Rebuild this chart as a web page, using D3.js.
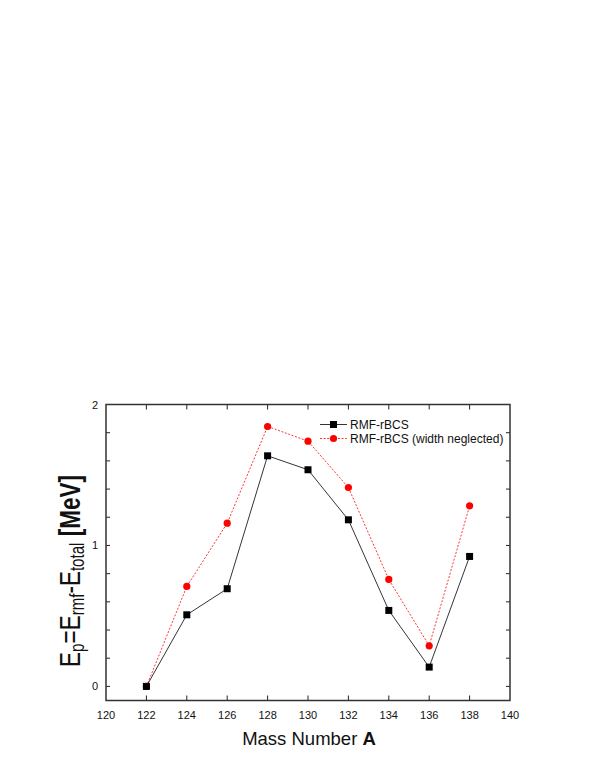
<!DOCTYPE html>
<html><head><meta charset="utf-8">
<script src="https://cdn.jsdelivr.net/npm/d3@7"></script>
<style>body{margin:0;background:#fff;} svg{display:block;} text{font-family:"Liberation Sans",Arial,sans-serif;}</style>
</head><body>
<svg id="c" width="595" height="770"></svg>
<script>
const massNumbers = [122,124,126,128,130,132,134,136,138];
const rmfRBCS = [0.0,0.508,0.693,1.636,1.537,1.182,0.539,0.137,0.922];
const rmfRBCSWidthNeglected = [0.0,0.709,1.158,1.844,1.740,1.411,0.759,0.288,1.281];
const seriesNames = ["RMF-rBCS","RMF-rBCS (width neglected)"];
const xTicks = [120,122,124,126,128,130,132,134,136,138,140];
const yTicks = [0,1,2];
const yMinorTicks = [0.0,0.2,0.4,0.6,0.8,1.0,1.2,1.4,1.6,1.8,2.0];

const svg = d3.select("#c");
const L=106, R=510, T=404.5, B=700.5;
const x = d3.scaleLinear().domain([120,140]).range([L,R]);
const y = d3.scaleLinear().domain([-0.1,2]).range([B,T]);
const ink="#222";

const g = svg.append("g");
xTicks.slice(1,-1).forEach(v=>{
  g.append("line").attr("x1",x(v)).attr("x2",x(v)).attr("y1",B).attr("y2",B-5).attr("stroke",ink).attr("stroke-width",1);
  g.append("line").attr("x1",x(v)).attr("x2",x(v)).attr("y1",T).attr("y2",T+5).attr("stroke",ink).attr("stroke-width",1);
});
yMinorTicks.forEach(v=>{
  if (y(v)<=T+0.5) return;
  g.append("line").attr("x1",L).attr("x2",L+4).attr("y1",y(v)).attr("y2",y(v)).attr("stroke",ink).attr("stroke-width",1);
  g.append("line").attr("x1",R).attr("x2",R-4).attr("y1",y(v)).attr("y2",y(v)).attr("stroke",ink).attr("stroke-width",1);
});
xTicks.forEach(v=>{
  g.append("text").attr("x",x(v)).attr("y",B+18).attr("text-anchor","middle").attr("font-size",11).attr("fill","#111").text(v);
});
yTicks.forEach(v=>{
  g.append("text").attr("x",L-8).attr("y",y(v)+4).attr("text-anchor","end").attr("font-size",11).attr("fill","#111").text(v);
});
svg.append("rect").attr("x",L).attr("y",T).attr("width",R-L).attr("height",B-T).attr("fill","none").attr("stroke","#333").attr("stroke-width",1.5);

const line = d3.line().x((d,i)=>x(massNumbers[i])).y(d=>y(d));
svg.append("path").attr("d",line(rmfRBCSWidthNeglected)).attr("fill","none").attr("stroke","#f00").attr("stroke-width",0.8).attr("stroke-dasharray","2,1.6");
svg.selectAll(".ci").data(rmfRBCSWidthNeglected).enter().append("circle")
  .attr("cx",(d,i)=>x(massNumbers[i])).attr("cy",d=>y(d)).attr("r",3.6).attr("fill","#f00");
svg.append("path").attr("d",line(rmfRBCS)).attr("fill","none").attr("stroke","#000").attr("stroke-width",0.8);
svg.selectAll(".sq").data(rmfRBCS).enter().append("rect")
  .attr("x",(d,i)=>x(massNumbers[i])-3.5).attr("y",d=>y(d)-3.5).attr("width",7).attr("height",7).attr("fill","#000");

const lg = svg.append("g");
lg.append("line").attr("x1",320).attr("x2",347).attr("y1",424.5).attr("y2",424.5).attr("stroke","#000").attr("stroke-width",0.8);
lg.append("rect").attr("x",333.5-3.5).attr("y",421).attr("width",7).attr("height",7).attr("fill","#000");
lg.append("text").attr("x",350).attr("y",428.5).attr("font-size",12).attr("fill","#111").text(seriesNames[0]);
lg.append("line").attr("x1",320).attr("x2",347).attr("y1",438.5).attr("y2",438.5).attr("stroke","#f00").attr("stroke-width",0.8).attr("stroke-dasharray","2,1.6");
lg.append("circle").attr("cx",333.5).attr("cy",438.5).attr("r",3.6).attr("fill","#f00");
lg.append("text").attr("x",350).attr("y",442.7).attr("font-size",12).attr("fill","#111").text(seriesNames[1]);

const xl = svg.append("text").attr("x",309).attr("y",745).attr("text-anchor","middle").attr("font-size",18.5).attr("fill","#111");
xl.append("tspan").text("Mass Number ");
xl.append("tspan").attr("font-weight","bold").text("A");

const yl = svg.append("text").attr("transform",`translate(80,571) rotate(-90) scale(0.775,1)`).attr("text-anchor","middle").attr("font-size",29).attr("fill","#111");
yl.append("tspan").text("E");
yl.append("tspan").attr("font-size",19.5).attr("dy",4).text("p");
yl.append("tspan").attr("dy",-4).text("=E");
yl.append("tspan").attr("font-size",19.5).attr("dy",4).text("rmf");
yl.append("tspan").attr("dy",-4).text("-E");
yl.append("tspan").attr("font-size",19.5).attr("dy",4).text("total");
yl.append("tspan").attr("dy",-4).attr("font-weight","bold").text(" [MeV]");
</script>
</body></html>
